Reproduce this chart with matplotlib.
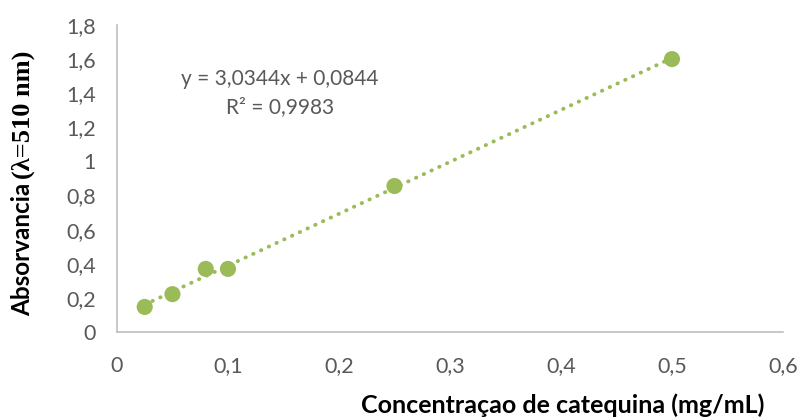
import matplotlib
matplotlib.use("Agg")
import matplotlib.pyplot as plt
import numpy as np
from matplotlib.ticker import FuncFormatter, MultipleLocator

# data
conc = [0.025, 0.05, 0.08, 0.10, 0.25, 0.50]
absorb = [0.147, 0.222, 0.370, 0.370, 0.856, 1.600]
eq_text = "y = 3,0344x + 0,0844"
r2_text = "R² = 0,9983"

GREEN = "#9BBB59"
GRAY = "#595959"
SPINE = "#BFBFBF"


def comma_fmt(v, _pos):
    s = f"{v:.1f}".rstrip("0").rstrip(".")
    return s.replace(".", ",")


fig = plt.figure(figsize=(8.01, 4.2), dpi=100)
ax = fig.add_axes([0.146, 0.2095, 0.8315, 0.731])

# trendline from a linear fit over the points
coef = np.polyfit(conc, absorb, 1)
xs = np.array([min(conc), max(conc)])
ax.plot(xs, np.polyval(coef, xs), linestyle=(0, (0.1, 2.1)), dash_capstyle="round",
        color=GREEN, lw=2.8, zorder=2)
ax.scatter(conc, absorb, s=135, color=GREEN, edgecolors="none", zorder=3)

ax.set_xlim(0, 0.6)
ax.set_ylim(0, 1.8)
ax.xaxis.set_major_locator(MultipleLocator(0.1))
ax.yaxis.set_major_locator(MultipleLocator(0.2))
ax.xaxis.set_major_formatter(FuncFormatter(comma_fmt))
ax.yaxis.set_major_formatter(FuncFormatter(comma_fmt))
ax.tick_params(length=0, labelsize=15.5, labelcolor=GRAY)
ax.tick_params(axis="y", pad=15)
ax.tick_params(axis="x", pad=17)
for lab in ax.get_xticklabels() + ax.get_yticklabels():
    lab.set_family("Lato")

for side in ("top", "right"):
    ax.spines[side].set_visible(False)
for side in ("left", "bottom"):
    ax.spines[side].set_color(SPINE)
    ax.spines[side].set_linewidth(1.2)

ax.text(0.147, 1.485, eq_text, ha="center", va="center", fontsize=15,
        color=GRAY, family="Lato")
ax.text(0.147, 1.32, r2_text, ha="center", va="center", fontsize=15,
        color=GRAY, family="Lato")

fig.text(0.703, 0.007, "Concentraçao de catequina (mg/mL)", ha="center", va="bottom",
         fontsize=18, fontweight="bold", family="Lato", color="black")

# y label: two fonts, stacked along the rotated baseline
t1 = fig.text(0.014, 0.248, "Absorvancia ", rotation=90, ha="left", va="bottom",
              fontsize=17.5, fontweight="bold", family="Lato", color="black")
fig.canvas.draw()
bb = t1.get_window_extent(fig.canvas.get_renderer())
y_top = bb.y1 / fig.bbox.height
fig.text(0.014, y_top - 0.006, "(λ=510 nm)", rotation=90, ha="left", va="bottom",
         fontsize=19, fontweight="bold", family="Liberation Serif", color="black")

fig.savefig("out.png", dpi=100)
